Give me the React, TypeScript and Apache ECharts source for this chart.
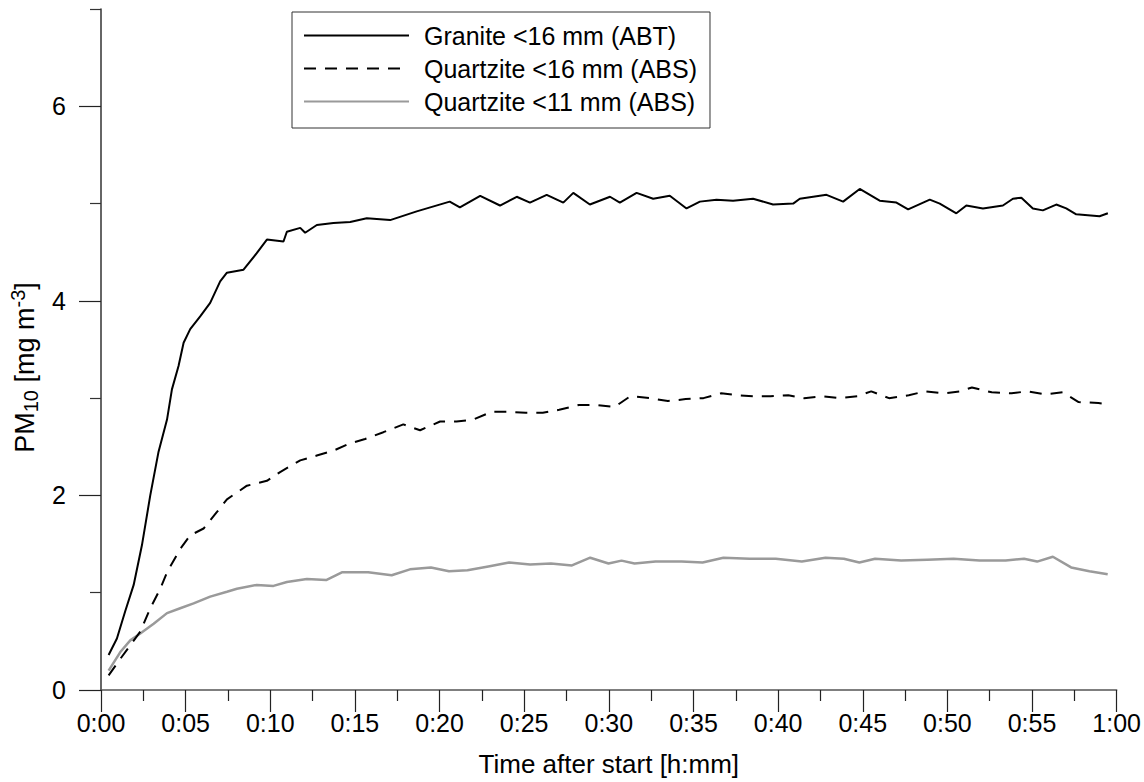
import React, { useEffect, useRef } from "react";
import * as echarts from "echarts";

// Time after start in minutes, PM10 concentration in mg m^-3
const graniteTime = [0.45, 0.94, 1.43, 1.93, 2.42, 2.91, 3.4, 3.9, 4.19, 4.58, 4.88, 5.27, 5.86, 6.45, 7.04, 7.44, 8.42, 9.2, 9.8, 10.78, 10.98, 11.77, 12.06, 12.75, 13.73, 14.72, 15.7, 17.08, 18.65, 20.6, 21.2, 22.4, 23.57, 24.56, 25.34, 26.33, 27.31, 27.9, 28.88, 30.07, 30.65, 31.64, 32.62, 33.6, 34.59, 35.38, 36.36, 37.34, 38.52, 39.7, 40.89, 41.28, 42.86, 43.84, 44.82, 46.0, 46.99, 47.68, 48.96, 49.55, 50.53, 51.12, 52.1, 53.28, 53.87, 54.37, 55.05, 55.64, 56.43, 57.02, 57.61, 58.99, 59.48];
const graniteValues = [0.36, 0.53, 0.81, 1.08, 1.49, 2.0, 2.45, 2.78, 3.09, 3.33, 3.57, 3.71, 3.84, 3.98, 4.2, 4.29, 4.32, 4.49, 4.63, 4.61, 4.71, 4.75, 4.7, 4.78, 4.8, 4.81, 4.85, 4.83, 4.92, 5.02, 4.96, 5.08, 4.98, 5.07, 5.01, 5.09, 5.01, 5.11, 4.99, 5.07, 5.01, 5.11, 5.05, 5.08, 4.95, 5.02, 5.04, 5.03, 5.05, 4.99, 5.0, 5.05, 5.09, 5.02, 5.15, 5.03, 5.01, 4.94, 5.04, 5.0, 4.9, 4.98, 4.95, 4.98, 5.05, 5.06, 4.95, 4.93, 4.99, 4.95, 4.89, 4.87, 4.9];

const quartz16Time = [0.45, 1.14, 1.73, 2.32, 2.91, 3.5, 3.9, 4.68, 5.27, 6.06, 6.85, 7.44, 8.62, 9.8, 10.58, 11.77, 12.75, 13.73, 14.62, 15.6, 16.68, 17.86, 18.85, 20.03, 21.0, 22.0, 23.08, 24.04, 25.09, 26.1, 27.07, 28.24, 29.29, 30.34, 31.27, 32.44, 33.49, 34.54, 35.59, 36.64, 37.57, 38.51, 39.55, 40.6, 41.53, 42.59, 43.64, 44.69, 45.5, 46.55, 47.72, 48.7, 49.82, 50.76, 51.45, 52.62, 53.79, 54.72, 55.77, 56.82, 57.75, 58.92, 59.3];
const quartz16Values = [0.15, 0.32, 0.46, 0.6, 0.84, 1.04, 1.21, 1.45, 1.59, 1.66, 1.83, 1.96, 2.1, 2.15, 2.24, 2.36, 2.41, 2.46, 2.53, 2.58, 2.65, 2.73, 2.67, 2.76, 2.76, 2.78, 2.86, 2.86, 2.85, 2.85, 2.88, 2.93, 2.93, 2.91, 3.02, 3.0, 2.97, 2.99, 3.0, 3.05, 3.03, 3.02, 3.02, 3.03, 3.0, 3.02, 3.0, 3.02, 3.07, 3.0, 3.03, 3.07, 3.05, 3.07, 3.11, 3.06, 3.05, 3.07, 3.04, 3.06, 2.96, 2.95, 2.94];

const quartz11Time = [0.45, 1.14, 1.73, 2.32, 3.11, 3.9, 4.68, 5.47, 6.45, 7.44, 8.03, 9.2, 10.19, 10.98, 12.16, 13.3, 14.23, 15.78, 17.17, 18.25, 19.49, 20.56, 21.65, 22.88, 24.11, 25.35, 26.58, 27.82, 28.9, 29.98, 30.75, 31.52, 32.76, 34.3, 35.54, 36.77, 38.32, 39.86, 41.4, 42.8, 43.88, 44.8, 45.73, 47.27, 48.81, 50.36, 51.9, 53.44, 54.53, 55.3, 56.23, 57.31, 58.39, 59.47];
const quartz11Values = [0.2, 0.39, 0.51, 0.58, 0.68, 0.79, 0.84, 0.89, 0.96, 1.01, 1.04, 1.08, 1.07, 1.11, 1.14, 1.13, 1.21, 1.21, 1.18, 1.24, 1.26, 1.22, 1.23, 1.27, 1.31, 1.29, 1.3, 1.28, 1.36, 1.3, 1.33, 1.3, 1.32, 1.32, 1.31, 1.36, 1.35, 1.35, 1.32, 1.36, 1.35, 1.31, 1.35, 1.33, 1.34, 1.35, 1.33, 1.33, 1.35, 1.32, 1.37, 1.26, 1.22, 1.19];

const seriesNames = ["Granite <16 mm (ABT)", "Quartzite <16 mm (ABS)", "Quartzite <11 mm (ABS)"];
const yMajorTicks = [0, 2, 4, 6];
const yMinorTicks = [1, 3, 5, 7];

const FONT = "'Liberation Sans', Arial, sans-serif";

const zip = (t: number[], v: number[]) => t.map((x, i) => [x, v[i]]);

export default function App() {
  const ref = useRef<HTMLDivElement>(null);
  useEffect(() => {
    if (!ref.current) return;
    const chart = echarts.init(ref.current, undefined, { renderer: "svg" });
    chart.setOption({
      animation: false,
      backgroundColor: "#fff",
      textStyle: { fontFamily: FONT },
      grid: { left: 101, right: 27, top: 9, bottom: 90, containLabel: false },
      legend: {
        data: seriesNames,
        orient: "vertical",
        left: 292,
        top: 12,
        padding: [11, 13, 14, 11],
        itemGap: 8,
        itemWidth: 105,
        itemHeight: 25,
        borderColor: "#333",
        borderWidth: 1,
        itemStyle: { opacity: 0 },
        textStyle: { fontSize: 25, color: "#000", fontFamily: FONT, padding: [0, 0, 0, 10] },
      },
      xAxis: {
        type: "value",
        min: 0,
        max: 60,
        interval: 5,
        axisLine: { lineStyle: { color: "#555", width: 1.5 } },
        axisTick: { length: 22, lineStyle: { color: "#222", width: 1.2 } },
        minorTick: { show: true, splitNumber: 2, length: 11, lineStyle: { color: "#222", width: 1.2 } },
        splitLine: { show: false },
        minorSplitLine: { show: false },
        axisLabel: {
          margin: 20,
          fontSize: 25,
          color: "#000",
          fontFamily: FONT,
          formatter: (v: number) => `${Math.floor(v / 60)}:${String(Math.round(v % 60)).padStart(2, "0")}`,
        },
        name: "Time after start [h:mm]",
        nameLocation: "middle",
        nameGap: 61,
        nameTextStyle: { fontSize: 26, color: "#000", fontFamily: FONT },
      },
      yAxis: [
        {
          type: "value",
          min: 0,
          max: 7,
          interval: 1,
          axisLine: { show: true, lineStyle: { color: "#333", width: 1.5 } },
          axisTick: { show: true, length: 22, customValues: yMajorTicks, lineStyle: { color: "#222", width: 1.2 } },
          axisLabel: { customValues: yMajorTicks, margin: 35, fontSize: 25, color: "#000", fontFamily: FONT },
          splitLine: { show: false },
          name: "{a|PM}{b|10}{a| [mg m}{c|-3}{a|]}",
          nameLocation: "middle",
          nameRotate: 90,
          nameGap: 60,
          nameTextStyle: {
            color: "#000",
            fontFamily: FONT,
            padding: [0, 36, 0, 0],
            rich: {
              a: { fontSize: 27, color: "#000", fontFamily: FONT },
              b: { fontSize: 20, color: "#000", fontFamily: FONT, padding: [13, 0, 0, 0] },
              c: { fontSize: 20, color: "#000", fontFamily: FONT, padding: [0, 0, 13, 0] },
            },
          },
        },
        {
          type: "value",
          min: 0,
          max: 7,
          interval: 1,
          position: "left",
          axisLine: { show: false },
          axisTick: { show: true, length: 11, customValues: yMinorTicks, lineStyle: { color: "#333", width: 1.2 } },
          axisLabel: { show: false },
          splitLine: { show: false },
        },
      ],
      series: [
        {
          name: seriesNames[2],
          type: "line",
          data: zip(quartz11Time, quartz11Values),
          showSymbol: false,
          symbol: "none",
          color: "#9a9a9a",
          lineStyle: { color: "#9a9a9a", width: 2.5 },
        },
        {
          name: seriesNames[1],
          type: "line",
          data: zip(quartz16Time, quartz16Values),
          showSymbol: false,
          symbol: "none",
          color: "#000",
          lineStyle: { color: "#000", width: 2, type: [12, 9] },
        },
        {
          name: seriesNames[0],
          type: "line",
          data: zip(graniteTime, graniteValues),
          showSymbol: false,
          symbol: "none",
          color: "#000",
          lineStyle: { color: "#000", width: 2 },
        },
      ],
    });
    return () => chart.dispose();
  }, []);
  return <div ref={ref} style={{ position: "absolute", left: 0, top: 0, width: 1144, height: 782 }} />;
}
